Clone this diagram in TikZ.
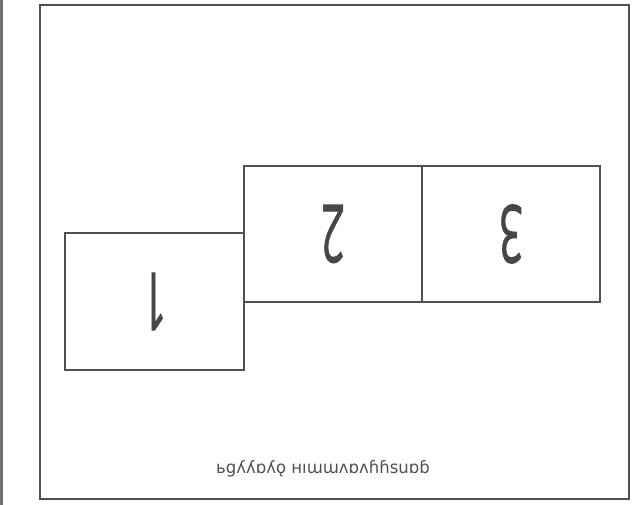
\documentclass[tikz,border=0pt]{standalone}
\usepackage{fontspec}
\setmainfont{Open Sans}
\newfontfamily\capfont{DejaVu Sans}
\newfontfamily\digitfont{Open Sans}[FakeBold=1.4]
\usetikzlibrary{positioning}

\definecolor{inkgray}{HTML}{505050}
\definecolor{digitgray}{HTML}{474747}
\definecolor{edgegray}{HTML}{707070}

\tikzset{
  cell/.style={draw=inkgray, line width=1.4pt, minimum width=178pt,
    minimum height=136pt, inner sep=0pt, outer sep=0pt},
  digit/.style={text=digitgray, font=\digitfont\fontsize{80}{80}\selectfont,
    rotate=180, xscale=0.52, inner sep=0pt}
}

\begin{document}
\begin{tikzpicture}[x=1pt, y=-1pt]
  \useasboundingbox (0,0) rectangle (636,505);
  % scan edge and outer frame
  \fill[edgegray] (0,0) rectangle (3,505);
  \node[draw=inkgray, line width=1.6pt, minimum width=589pt, minimum height=494pt,
    inner sep=0pt] (frame) at (334.5,252) {};

  % the three cells
  \node[cell, anchor=north west] (two) at (244,166) {};
  \node[cell, right=0pt of two] (three) {};
  \node[cell, anchor=north east, minimum width=179pt, minimum height=137pt]
    (one) at (244,233) {};

  \node[digit] (d1) at (one.center) {1};
  \node[digit] (d2) at (two.center) {2};
  \node[digit] (d3) at (three.center) {3};

  % caption, printed upside down
  \node[text=inkgray, font=\capfont\fontsize{17}{17}\selectfont, xscale=0.97]
    (caption) at (323,469) {ьgʎʎɒʎǫ нıɯɯʌɒʌɦɦsuɒɓ};
\end{tikzpicture}
\end{document}
